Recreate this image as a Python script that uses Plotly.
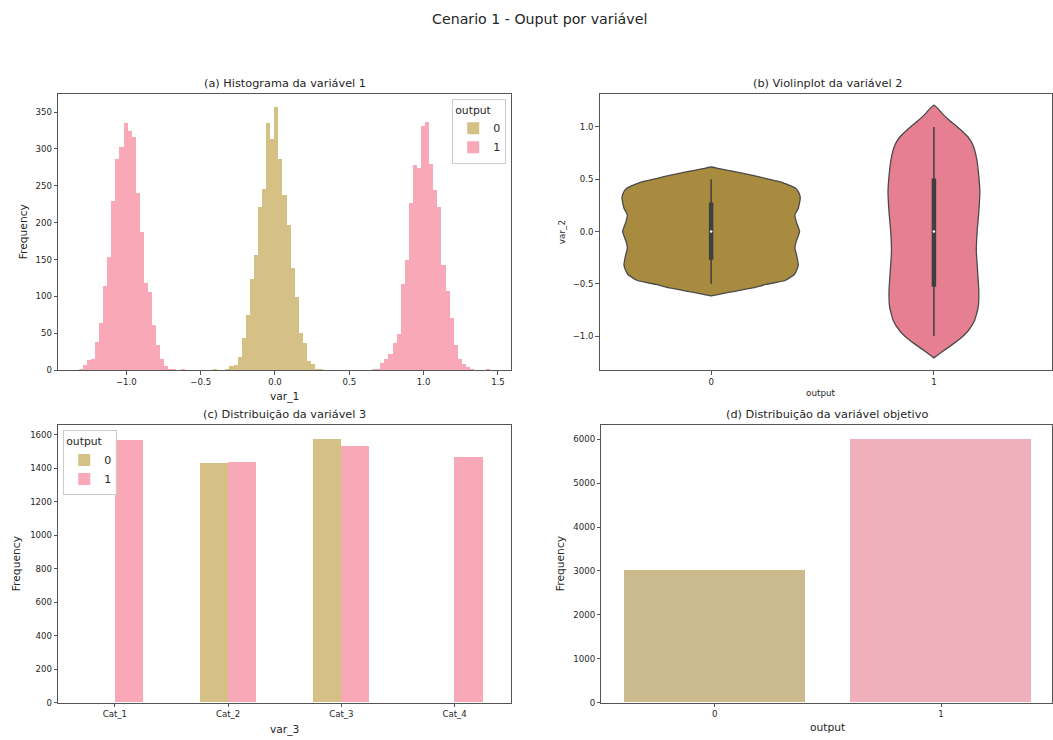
import numpy as np
import plotly.graph_objects as go

# ---------------- data ----------------
# (a) histogram of var_1: common bins shared by both output classes
hist_bin_start = -1.319
hist_bin_width = 0.02742
hist_counts_0 = (
    [0] * 33 + [1, 0, 0]
    + [1, 6, 7, 18, 44, 75, 124, 156, 222, 246, 336, 314, 357, 287, 238, 197,
       139, 100, 51, 37, 12, 9, 2, 1]
    + [0] * 41
)
hist_counts_1 = (
    [2, 7, 14, 15, 39, 64, 115, 153, 229, 286, 303, 336, 325, 316, 241, 187,
     119, 106, 61, 34, 16, 6, 2, 1]
    + [0, 1] + [0] * 46 + [1, 2]
    + [10, 15, 22, 37, 49, 117, 150, 227, 278, 274, 331, 337, 280, 245, 222, 143,
       107, 71, 34, 15, 8, 5, 1]
    + [0, 0, 0, 1]
)

# (b) violin of var_2: estimated density profile per class (1.0 = widest)
violin_levels_0 = [0.617, 0.601, 0.570, 0.538, 0.506, 0.468, 0.412, 0.364, 0.317,
                   0.222, 0.159, 0.095, 0.0, -0.095, -0.158, -0.222, -0.317,
                   -0.364, -0.412, -0.469, -0.507, -0.539, -0.570, -0.596, -0.617]
violin_density_0 = [0.0, 0.093, 0.28, 0.466, 0.616, 0.802, 0.951, 0.989, 1.0,
                    0.978, 0.94, 0.955, 0.993, 0.955, 0.94, 0.958, 0.978,
                    0.963, 0.933, 0.828, 0.616, 0.466, 0.28, 0.112, 0.0]
violin_levels_1 = [1.209, 1.171, 1.123, 1.060, 0.981, 0.902, 0.823, 0.696, 0.538,
                   0.380, 0.190, 0.0, -0.190, -0.380, -0.570, -0.728, -0.855,
                   -0.950, -1.029, -1.092, -1.155, -1.209]
violin_density_1 = [0.0, 0.05, 0.10, 0.18, 0.29, 0.385, 0.44, 0.48, 0.503,
                    0.515, 0.504, 0.485, 0.476, 0.49, 0.504, 0.496, 0.455,
                    0.385, 0.29, 0.19, 0.085, 0.0]
violin_whiskers = [(-0.5, 0.5), (-1.0, 1.0)]
violin_quartiles = [(-0.27, 0.278), (-0.529, 0.507)]
violin_medians = [0.0, 0.0]

# (c) var_3 counts per category and class
var3_categories = ["Cat_1", "Cat_2", "Cat_3", "Cat_4"]
var3_counts_0 = [None, 1426, 1574, None]
var3_counts_1 = [1567, 1437, 1531, 1465]

# (d) target distribution
output_labels = ["0", "1"]
output_counts = [3000, 6000]

# ---------------- styling ----------------
W, H = 1053, 740
FONT = "DejaVu Sans"
TXT = "#262626"
SPINE = "#555555"
HIST_COLORS = ["#D5C185", "#F9A8B7"]
VIOLIN_COLORS = ["#A98B3F", "#E57F91"]
BAR_COLORS = ["#CBBA8E", "#EFB0BC"]


def px_x(p):
    return p / W


def px_y(p):
    return 1 - p / H


fig = go.Figure()

# ---- (a) histogram ----
edges_left = hist_bin_start + hist_bin_width * np.arange(len(hist_counts_0))
centers = edges_left + hist_bin_width / 2
for k, counts in enumerate([hist_counts_0, hist_counts_1]):
    counts = np.array(counts, dtype=float)
    mask = counts > 0
    fig.add_trace(go.Bar(
        x=centers[mask], y=counts[mask], width=hist_bin_width,
        marker=dict(color=HIST_COLORS[k], line=dict(width=0)),
        name=str(k), legend="legend", showlegend=True,
        xaxis="x", yaxis="y",
    ))

# ---- (b) violins ----
VIOLIN_HALF = 0.4
for k, (lv, dens) in enumerate([(violin_levels_0, violin_density_0),
                                 (violin_levels_1, violin_density_1)]):
    lv = np.array(lv)
    hw = np.array(dens) * VIOLIN_HALF
    xs = np.concatenate([k + hw, (k - hw)[::-1]])
    ys = np.concatenate([lv, lv[::-1]])
    fig.add_trace(go.Scatter(
        x=xs, y=ys, mode="lines", fill="toself",
        fillcolor=VIOLIN_COLORS[k],
        line=dict(color="#4a4a4a", width=1.3, shape="spline", smoothing=0.4),
        showlegend=False, xaxis="x2", yaxis="y2", hoverinfo="skip",
    ))
    lo, hi = violin_whiskers[k]
    fig.add_trace(go.Scatter(
        x=[k, k], y=[lo, hi], mode="lines",
        line=dict(color="#3f3f3f", width=1.5),
        showlegend=False, xaxis="x2", yaxis="y2", hoverinfo="skip",
    ))
    q1, q3 = violin_quartiles[k]
    fig.add_trace(go.Scatter(
        x=[k, k], y=[q1, q3], mode="lines",
        line=dict(color="#3f3f3f", width=4.5),
        showlegend=False, xaxis="x2", yaxis="y2", hoverinfo="skip",
    ))
    fig.add_trace(go.Scatter(
        x=[k], y=[violin_medians[k]], mode="markers",
        marker=dict(color="white", size=2.5),
        showlegend=False, xaxis="x2", yaxis="y2", hoverinfo="skip",
    ))

# ---- (c) grouped bars ----
for k, counts in enumerate([var3_counts_0, var3_counts_1]):
    fig.add_trace(go.Bar(
        x=var3_categories, y=counts, width=0.25, offset=-0.25 + 0.25 * k,
        marker=dict(color=HIST_COLORS[k], line=dict(width=0)),
        name=str(k), legend="legend2", showlegend=True,
        xaxis="x3", yaxis="y3",
    ))

# ---- (d) target bars ----
fig.add_trace(go.Bar(
    x=output_labels, y=output_counts, width=0.8,
    marker=dict(color=BAR_COLORS, line=dict(width=0)),
    showlegend=False, xaxis="x4", yaxis="y4",
))

axis_common = dict(
    showline=True, mirror=True, linecolor=SPINE, linewidth=1,
    ticks="outside", ticklen=3.5, tickwidth=1, tickcolor=SPINE,
    showgrid=False, zeroline=False,
    tickfont=dict(family=FONT, size=8.6, color=TXT),
)

dom_a_x = [px_x(58.3), px_x(511.7)]
dom_b_x = [px_x(600.3), 1.0]
dom_d_x = [px_x(602), 1.0]
dom_top_y = [px_y(372.7), px_y(94.5)]
dom_bot_y = [px_y(707.3), px_y(428.3)]

legend_common = dict(
    bgcolor="rgba(255,255,255,0.85)", bordercolor="#cccccc", borderwidth=1,
    font=dict(family=FONT, size=11, color=TXT),
    title=dict(text="output", font=dict(family=FONT, size=10.8, color=TXT)),
    tracegroupgap=0, itemwidth=30, itemsizing="constant",
)

fig.update_layout(
    width=W, height=H,
    margin=dict(l=0, r=0, t=0, b=0),
    paper_bgcolor="white", plot_bgcolor="white",
    font=dict(family=FONT, color=TXT),
    barmode="overlay", bargap=0,
    xaxis=dict(axis_common, domain=dom_a_x, anchor="y", range=[-1.458, 1.589],
               tickvals=[-1.0, -0.5, 0.0, 0.5, 1.0, 1.5], tickformat=".1f"),
    yaxis=dict(axis_common, domain=dom_top_y, anchor="x", range=[0, 374.7],
               tickvals=list(range(0, 351, 50))),
    xaxis2=dict(axis_common, domain=dom_b_x, anchor="y2", range=[-0.5, 1.53],
                tickvals=[0, 1], ticktext=["0", "1"]),
    yaxis2=dict(axis_common, domain=dom_top_y, anchor="x2", range=[-1.327, 1.317],
                tickvals=[-1.0, -0.5, 0.0, 0.5, 1.0], tickformat=".1f"),
    xaxis3=dict(axis_common, domain=dom_a_x, anchor="y3", type="category",
                range=[-0.5, 3.5]),
    yaxis3=dict(axis_common, domain=dom_bot_y, anchor="x3", range=[0, 1655.8],
                tickvals=list(range(0, 1601, 200))),
    xaxis4=dict(axis_common, domain=dom_d_x, anchor="y4", type="category",
                range=[-0.5, 1.49]),
    yaxis4=dict(axis_common, domain=dom_bot_y, anchor="x4", range=[0, 6316],
                tickvals=list(range(0, 6001, 1000))),
    legend=dict(legend_common, x=px_x(506.7), y=px_y(99.3),
                xanchor="right", yanchor="top"),
    legend2=dict(legend_common, x=px_x(63.3), y=px_y(433.3),
                 xanchor="left", yanchor="top"),
)


def note(text, x, y, size, angle=0):
    fig.add_annotation(
        text=text, x=px_x(x), y=px_y(y), xref="paper", yref="paper",
        xanchor="center", yanchor="middle", showarrow=False, textangle=angle,
        font=dict(family=FONT, size=size, color=TXT),
    )


# titles
note("Cenario 1 - Ouput por variável", 540.5, 19, 14.2)
note("(a) Histograma da variável 1", 285, 84, 11.3)
note("(b) Violinplot da variável 2", 828, 84, 11.3)
note("(c) Distribuição da variável 3", 285, 417.5, 11.3)
note("(d) Distribuição da variável objetivo", 828, 417.5, 11.3)

# axis labels
note("Frequency", 23.3, 233.6, 10.7, -90)
note("var_1", 285, 399, 10.7)
note("var_2", 562.7, 233.6, 8.8, -90)
note("output", 822, 396, 8.8)
note("Frequency", 17.3, 567.8, 10.7, -90)
note("var_3", 285, 734, 10.7)
note("Frequency", 561.7, 567.8, 10.7, -90)
note("output", 828, 732.7, 10.7)

fig.write_html("out.html")
